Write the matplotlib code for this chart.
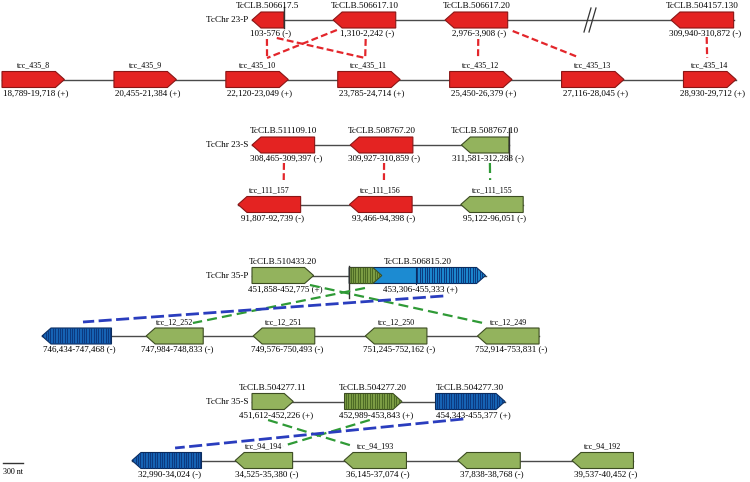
# Схема синтении: гены TcCLB (CL Brener) против контигов tcc
import matplotlib
matplotlib.use('Agg')
import matplotlib.pyplot as plt
from matplotlib.patches import Polygon

plt.rcParams['font.family'] = ['Liberation Serif', 'DejaVu Serif']

PX_PER_NT = 0.0672   # масштаб: 300 nt ~ 20 px
HALF_H = 8           # половина высоты стрелки гена
TIP = 9              # длина острия

# ---- данные ----
# TcChr 23-P
p23_names = ['TcCLB.506617.5', 'TcCLB.506617.10', 'TcCLB.506617.20', 'TcCLB.504157.130']
p23_start = [103, 1310, 2976, 309940]
p23_end = [576, 2242, 3908, 310872]
p23_strand = ['-', '-', '-', '-']
p23_kind = ['red', 'red', 'red', 'red']

# tcc_435
t435_names = ['tcc_435_8', 'tcc_435_9', 'tcc_435_10', 'tcc_435_11', 'tcc_435_12', 'tcc_435_13', 'tcc_435_14']
t435_start = [18789, 20455, 22120, 23785, 25450, 27116, 28930]
t435_end = [19718, 21384, 23049, 24714, 26379, 28045, 29712]
t435_strand = ['+'] * 7
t435_kind = ['red'] * 7

# TcChr 23-S
s23_names = ['TcCLB.511109.10', 'TcCLB.508767.20', 'TcCLB.508767.10']
s23_start = [308465, 309927, 311581]
s23_end = [309397, 310859, 312288]
s23_strand = ['-', '-', '-']
s23_kind = ['red', 'red', 'green']

# tcc_111
t111_names = ['tcc_111_157', 'tcc_111_156', 'tcc_111_155']
t111_start = [91807, 93466, 95122]
t111_end = [92739, 94398, 96051]
t111_strand = ['-', '-', '-']
t111_kind = ['red', 'red', 'green']

# TcChr 35-P
p35_names = ['TcCLB.510433.20', 'TcCLB.506815.20']
p35_start = [451858, 453306]
p35_end = [452775, 455333]
p35_strand = ['+', '+']
p35_kind = ['green', 'mosaic']
mosaic_green_end = 453700     # зелёный штрихованный участок 506815.20
mosaic_stripe_start = 454300  # начало синего штрихованного участка

# tcc_12
t12_names = [None, 'tcc_12_252', 'tcc_12_251', 'tcc_12_250', 'tcc_12_249']
t12_start = [746434, 747984, 749576, 751245, 752914]
t12_end = [747468, 748833, 750493, 752162, 753831]
t12_strand = ['-'] * 5
t12_kind = ['blue_str', 'green', 'green', 'green', 'green']

# TcChr 35-S
s35_names = ['TcCLB.504277.11', 'TcCLB.504277.20', 'TcCLB.504277.30']
s35_start = [451612, 452989, 454343]
s35_end = [452226, 453843, 455377]
s35_strand = ['+', '+', '+']
s35_kind = ['green', 'green_str', 'blue_str']

# tcc_94
t94_names = [None, 'tcc_94_194', 'tcc_94_193', None, 'tcc_94_192']
t94_start = [32990, 34525, 36145, 37838, 39537]
t94_end = [34024, 35380, 37074, 38768, 40452]
t94_strand = ['-'] * 5
t94_kind = ['blue_str', 'green', 'green', 'green', 'green']

# связи (верхний трек, ген, доля вдоль гена, нижний трек, ген, доля, цвет)
links = [
    ('p23', 0, 0.47, 't435', 2, 0.66, 'red'),
    ('p23', 0, 0.78, 't435', 3, 0.44, 'red'),
    ('p23', 1, 0.06, 't435', 2, 0.66, 'red'),
    ('p23', 1, 0.52, 't435', 3, 0.44, 'red'),
    ('p23', 2, 0.53, 't435', 4, 0.455, 'red'),
    ('p23', 2, 1.08, 't435', 5, 0.26, 'red'),
    ('p23', 3, 0.57, 't435', 6, 0.45, 'red'),
    ('s23', 0, 0.51, 't111', 0, 0.73, 'red'),
    ('s23', 1, 0.54, 't111', 1, 0.55, 'red'),
    ('s23', 2, 0.60, 't111', 2, 0.47, 'green'),
    ('p35', 1, 0.115, 't12', 1, 0.82, 'green'),
    ('p35', 0, 0.94, 't12', 4, 0.09, 'green'),
    ('p35', 1, 0.69, 't12', 0, 0.59, 'blue'),
    ('s35', 0, 0.39, 't94', 2, 0.14, 'green'),
    ('s35', 1, 0.44, 't94', 1, 0.83, 'green'),
    ('s35', 2, 0.40, 't94', 0, 0.62, 'blue'),
]
# смещения концов связей по вертикали (от низа верхнего гена / от верха нижнего)
link_dy = [(11, -13.5), (10, -13.5), (2, -13.5), (11, -13.5), (11, -13.5), (3, -14.5), (9, -13.5),
           (10, -16.5), (10, -16.5), (10, -16.5),
           (4.5, -5), (1.5, -5), (12.5, -6),
           (10.5, -6.5), (10.5, -6.5), (9.5, -4.5)]

# ---- раскладка треков: y центра, якоря (нуклеотид -> пиксель) ----
tracks = {
    'p23': dict(label='TcChr 23-P', y=20, names=p23_names, start=p23_start, end=p23_end,
                strand=p23_strand, kind=p23_kind, anchors=[(103, 252), (309940, 671)], seg=[0, 0, 0, 1],
                big=True),
    't435': dict(label=None, y=79.5, names=t435_names, start=t435_start, end=t435_end,
                 strand=t435_strand, kind=t435_kind, anchors=[(18789, 2)], seg=[0] * 7, big=False),
    's23': dict(label='TcChr 23-S', y=145, names=s23_names, start=s23_start, end=s23_end,
                strand=s23_strand, kind=s23_kind, anchors=[(308465, 252)], seg=[0] * 3, big=True),
    't111': dict(label=None, y=204.5, names=t111_names, start=t111_start, end=t111_end,
                 strand=t111_strand, kind=t111_kind, anchors=[(91807, 238)], seg=[0] * 3, big=False),
    'p35': dict(label='TcChr 35-P', y=275.5, names=p35_names, start=p35_start, end=p35_end,
                strand=p35_strand, kind=p35_kind, anchors=[(451858, 252)], seg=[0] * 2, big=True),
    't12': dict(label=None, y=336, names=t12_names, start=t12_start, end=t12_end,
                strand=t12_strand, kind=t12_kind, anchors=[(746434, 42)], seg=[0] * 5, big=False),
    's35': dict(label='TcChr 35-S', y=401.5, names=s35_names, start=s35_start, end=s35_end,
                strand=s35_strand, kind=s35_kind, anchors=[(451612, 252)], seg=[0] * 3, big=True),
    't94': dict(label=None, y=460.5, names=t94_names, start=t94_start, end=t94_end,
                strand=t94_strand, kind=t94_kind, anchors=[(32990, 132)], seg=[0] * 5, big=False),
}

FILL = {'red': '#E42322', 'green': '#93B35D', 'green_str': '#7FA046', 'blue_str': '#1766B8',
        'blue': '#1C8BD2'}
EDGE = {'red': '#8A1515', 'green': '#3C4C22', 'green_str': '#3C4C22', 'blue_str': '#0B2C5E',
        'blue': '#0B2C5E'}
STRIPE = {'green_str': '#4D6B25', 'blue_str': '#0C3A80'}
LINK_COL = {'red': '#E3262B', 'green': '#2F9A36', 'blue': '#2A3DBE'}
LINK_DASH = {'red': (3.1, 1.5), 'green': (4.5, 2.3), 'blue': (4.7, 1.6)}


def to_px(tr, pos, seg):
    ref, x0 = tr['anchors'][seg]
    return x0 + (pos - ref) * PX_PER_NT


def arrow(x0, x1, y, strand):
    yt, yb = y - HALF_H, y + HALF_H
    if strand == '+':
        return [(x0, yt), (x1 - TIP, yt), (x1, y), (x1 - TIP, yb), (x0, yb)]
    return [(x1, yt), (x0 + TIP, yt), (x0, y), (x0 + TIP, yb), (x1, yb)]


def stripes(ax, patch, xa, xb, y, color, z=3):
    x = xa + 1.2
    while x < xb:
        ln, = ax.plot([x, x], [y - HALF_H, y + HALF_H], color=color, lw=0.8, zorder=z)
        ln.set_clip_path(patch)
        x += 2.4


fig = plt.figure(figsize=(7.5, 4.82), dpi=100)
ax = fig.add_axes([0, 0, 1, 1])
ax.set_xlim(0, 750)
ax.set_ylim(482, 0)
ax.axis('off')

geom = {}
for key, tr in tracks.items():
    y = tr['y']
    xs = []
    for i in range(len(tr['start'])):
        x0 = to_px(tr, tr['start'][i], tr['seg'][i])
        x1 = to_px(tr, tr['end'][i], tr['seg'][i])
        xs.append((x0, x1))
    geom[key] = xs
    # ось трека
    ax.plot([xs[0][0], xs[-1][1]], [y, y], color='#4a4a4a', lw=1, zorder=1)

    for i, (x0, x1) in enumerate(xs):
        kind = tr['kind'][i]
        st = tr['strand'][i]
        if kind == 'mosaic':
            base = Polygon(arrow(x0, x1, y, st), closed=True, fc=FILL['blue'], ec=EDGE['blue'], lw=0.8, zorder=2)
            ax.add_patch(base)
            xs_str = to_px(tr, mosaic_stripe_start, 0)
            stripes(ax, base, xs_str, x1, y, STRIPE['blue_str'])
            ax.plot([xs_str, xs_str], [y - HALF_H, y + HALF_H], color=EDGE['blue'], lw=0.8, zorder=3)
            xg = to_px(tr, mosaic_green_end, 0)
            gp = Polygon(arrow(x0, xg + 6, y, '+'), closed=True, fc=FILL['green_str'], ec=EDGE['green'],
                         lw=0.8, zorder=4)
            ax.add_patch(gp)
            stripes(ax, gp, x0, xg + 6, y, STRIPE['green_str'], z=5)
        else:
            p = Polygon(arrow(x0, x1, y, st), closed=True, fc=FILL[kind], ec=EDGE[kind], lw=0.8, zorder=2)
            ax.add_patch(p)
            if kind in STRIPE:
                stripes(ax, p, x0, x1, y, STRIPE[kind])

        cx = (x0 + x1) / 2
        name = tr['names'][i]
        if name:
            ax.text(cx, y - HALF_H - 6, name, ha='center', va='center',
                    fontsize=6.6 if tr['big'] else 5.8, zorder=6)
        coord = f"{tr['start'][i]:,}-{tr['end'][i]:,} ({st})"
        ax.text(cx + 3, y + HALF_H + 5.5, coord, ha='center', va='center', fontsize=6.5, zorder=6)

    if tr['label']:
        ax.text(248, y, tr['label'], ha='right', va='center', fontsize=6.6)

# концы контигов
ends = [('p23', 0, 'end', -13, 0), ('s23', 2, 'end', -17, 7), ('p35', 1, 'start', -10, 14)]
for key, i, side, up, down in ends:
    x = geom[key][i][1] if side == 'end' else geom[key][i][0]
    y = tracks[key]['y']
    ax.plot([x, x], [y - HALF_H + up + 8, y + HALF_H + down], color='#333333', lw=1, zorder=5)

# разрыв //
bx = 590
by = tracks['p23']['y']
for dx in (-2.5, 2.5):
    ax.plot([bx + dx - 3.5, bx + dx + 3.5], [by + 12, by - 12], color='#333333', lw=0.9, zorder=3)

# связи
for (ua, ui, uf, la, li, lf, col), (dyt, dyb) in zip(links, link_dy):
    ux0, ux1 = geom[ua][ui]
    lx0, lx1 = geom[la][li]
    xa = ux0 + uf * (ux1 - ux0)
    xb = lx0 + lf * (lx1 - lx0)
    ya = tracks[ua]['y'] + HALF_H + dyt
    yb = tracks[la]['y'] - HALF_H + dyb
    ax.plot([xa, xb], [ya, yb], color=LINK_COL[col], lw=1.6 if col != 'blue' else 2.0,
            dashes=LINK_DASH[col], zorder=7)

# масштабная линейка
ax.plot([3, 3 + 300 * PX_PER_NT], [463, 463], color='#333333', lw=1)
ax.text(3, 471.5, '300 nt', ha='left', va='center', fontsize=5.8)

fig.savefig('out.png', dpi=100)
